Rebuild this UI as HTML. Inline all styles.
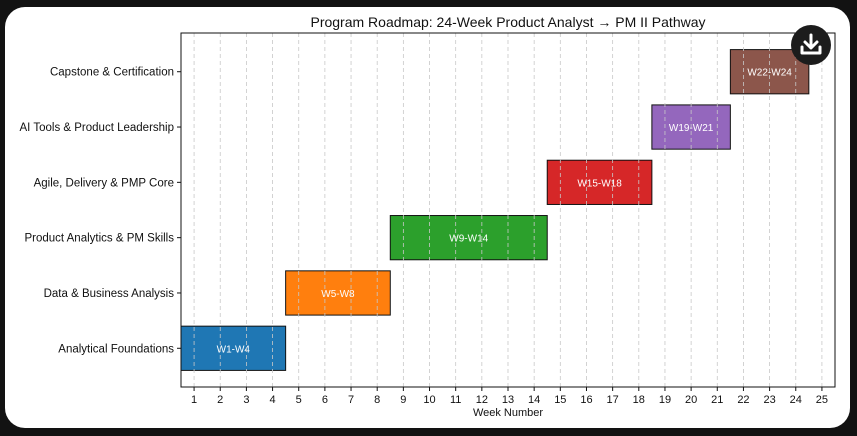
<!DOCTYPE html>
<html><head><meta charset="utf-8"><style>
html,body{margin:0;padding:0;background:#121212;width:857px;height:436px;overflow:hidden}
#card{position:absolute;left:5px;top:7px;width:845px;height:421px;background:#fff;border-radius:20px}
svg{position:absolute;left:0;top:0}
text{font-family:"Liberation Sans",sans-serif}
</style></head><body>
<div id="card"></div>
<svg id="chart" width="857" height="436"></svg>
<script>
const categories=["Analytical Foundations","Data & Business Analysis","Product Analytics & PM Skills","Agile, Delivery & PMP Core","AI Tools & Product Leadership","Capstone & Certification"];
const startWeeks=[1,5,9,15,19,22];
const endWeeks=[4,8,14,18,21,24];
const barLabels=["W1-W4","W5-W8","W9-W14","W15-W18","W19-W21","W22-W24"];
const colors=["#1f77b4","#ff7f0e","#2ca02c","#d62728","#9467bd","#8c564b"];
const xTicks=[1,2,3,4,5,6,7,8,9,10,11,12,13,14,15,16,17,18,19,20,21,22,23,24,25];

const L=181,R=835,T=33,B=387,xmin=0.5,xmax=25.5,ymin=-0.7,ymax=5.7;
const X=v=>L+(v-xmin)/(xmax-xmin)*(R-L);
const Y=v=>B-(v-ymin)/(ymax-ymin)*(B-T);
const svg=document.getElementById('chart');
const NS="http://www.w3.org/2000/svg";
function mk(t,a,p){const e=document.createElementNS(NS,t);for(const k in a)e.setAttribute(k,a[k]);(p||svg).appendChild(e);return e;}

let title=mk('text',{x:(L+R)/2,y:27,'text-anchor':'middle','font-size':14,fill:'#111'});
title.textContent="Program Roadmap: 24-Week Product Analyst \u2192 PM II Pathway";



categories.forEach((c,i)=>{
  const r=mk('rect',{x:X(startWeeks[i]-0.5),y:Y(i+0.4),width:X(endWeeks[i]+0.5)-X(startWeeks[i]-0.5),height:Y(i-0.4)-Y(i+0.4),fill:colors[i],stroke:'#111','stroke-width':1});
  
  
  const t=mk('text',{x:(X(startWeeks[i]-0.5)+X(endWeeks[i]+0.5))/2,y:Y(i)+4,'text-anchor':'middle','font-size':10,fill:'#fff'});
  t.textContent=barLabels[i];
  
  
  const tk=mk('line',{x1:L-4,x2:L,y1:Y(i),y2:Y(i),stroke:'#111'});
  
  
  const yl=mk('text',{x:L-7,y:Y(i)+4,'text-anchor':'end','font-size':11.5,fill:'#111'});
  yl.textContent=c;
  
  
});

xTicks.forEach(v=>{
  const g=mk('line',{x1:X(v),x2:X(v),y1:T,y2:B,stroke:'#c8c8c8','stroke-dasharray':'4,3','stroke-width':0.8});
  
  
  const tk=mk('line',{x1:X(v),x2:X(v),y1:B,y2:B+4,stroke:'#111'});
  
  
  const t=mk('text',{x:X(v),y:B+16,'text-anchor':'middle','font-size':11,fill:'#111'});
  t.textContent=v;
  
  
});

const fr=mk('rect',{x:L,y:T,width:R-L,height:B-T,fill:'none',stroke:'#111','stroke-width':1});


const xt=mk('text',{x:(L+R)/2,y:416,'text-anchor':'middle','font-size':11,fill:'#111'});
xt.textContent="Week Number";



const btn=mk('g',{});


mk('circle',{cx:811,cy:45,r:20,fill:'#1c1c1c'},btn);
mk('path',{d:'M811 35 V47 M805 42 L811 48 L817 42 M802 47 V53 H820 V47',stroke:'#fff','stroke-width':3,fill:'none','stroke-linejoin':'round','stroke-linecap':'round'},btn);
</script>
</body></html>
